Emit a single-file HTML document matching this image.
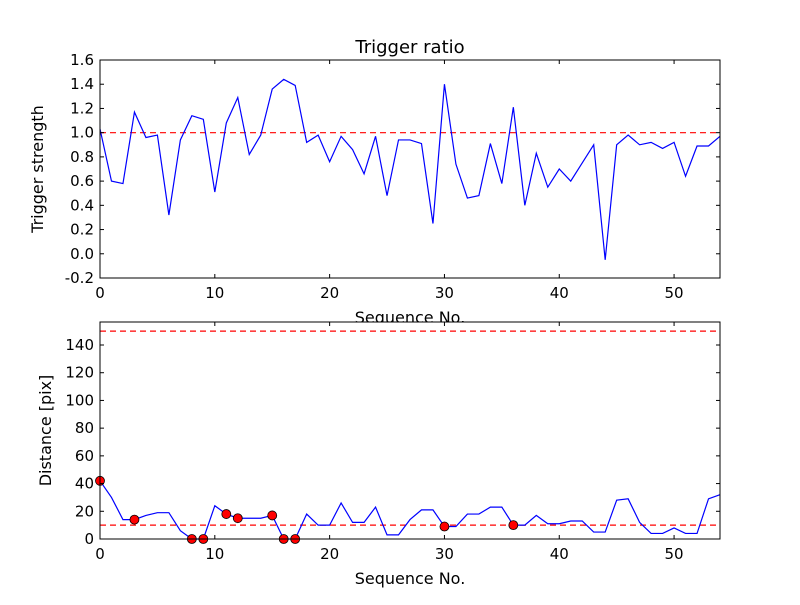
<!DOCTYPE html>
<html><head><meta charset="utf-8"><style>
body{margin:0;background:#fff;}
svg text{font-family:"DejaVu Sans","Liberation Sans",sans-serif;}
</style></head><body>
<svg id="c" width="800" height="600" xmlns="http://www.w3.org/2000/svg">
<rect width="800" height="600" fill="#fff"/>
</svg>
<script>
const seqTop = [1.03,0.60,0.58,1.17,0.96,0.98,0.32,0.94,1.14,1.11,0.51,1.08,1.29,0.82,0.98,1.36,1.44,1.39,0.92,0.98,0.76,0.97,0.86,0.66,0.97,0.48,0.94,0.94,0.91,0.25,1.40,0.74,0.46,0.48,0.91,0.58,1.21,0.40,0.83,0.55,0.70,0.60,0.75,0.90,-0.05,0.90,0.98,0.90,0.92,0.87,0.92,0.64,0.89,0.89,0.97];
const distance = [42,30,14,14,17,19,19,6,0,0,24,18,15,15,15,17,0,0,18,10,10,26,12,12,23,3,3,14,21,21,9,9,18,18,23,23,10,10,17,11,11,13,13,5,5,28,29,12,4,4,8,4,4,29,32];
const markedIdx = [0,3,8,9,11,12,15,16,17,30,36];
const topThreshold = [1.0];
const bottomThresholds = [150,10];
const xTicks = [0,10,20,30,40,50];
const topYTicks = [-0.2,0.0,0.2,0.4,0.6,0.8,1.0,1.2,1.4,1.6];
const botYTicks = [0,20,40,60,80,100,120,140];

const NS='http://www.w3.org/2000/svg';
const svg=document.getElementById('c');
function mk(t,a,p){const e=document.createElementNS(NS,t);for(const k in a)e.setAttribute(k,a[k]);(p||svg).appendChild(e);return e;}
const L=100,R=720;
const xs=v=>L+(v-0)/(54-0)*(R-L);
function drawAxes(name,T,B,ymin,ymax,yt,fmt,data,thr,title,ylx){
  const ys=v=>B-(v-ymin)/(ymax-ymin)*(B-T);
  const g=mk('g',{});
  const bg=mk('rect',{x:L,y:T,width:R-L,height:B-T,fill:'#fff'},g);
  thr.forEach(t=>{const l=mk('line',{x1:L,x2:R,y1:ys(t),y2:ys(t),stroke:'#ff0000','stroke-width':1.2,'stroke-dasharray':'6,4'},g);});
  const pl=mk('polyline',{points:data.map((v,i)=>xs(i)+','+ys(v)).join(' '),fill:'none',stroke:'#0000ff','stroke-width':1.2},g);
  
  if(name==='bottom-axes'){markedIdx.forEach(i=>{const c=mk('circle',{cx:xs(i),cy:ys(data[i]),r:4.5,fill:'#ff0000',stroke:'#000','stroke-width':0.8},g);});}
  const f=mk('rect',{x:L,y:T,width:R-L,height:B-T,fill:'none',stroke:'#000','stroke-width':1},g);
  xTicks.forEach(t=>{const x=xs(t);mk('line',{x1:x,x2:x,y1:B,y2:B-4,stroke:'#000'},g);mk('line',{x1:x,x2:x,y1:T,y2:T+4,stroke:'#000'},g);
    const tx=mk('text',{x:x,y:B+20,'font-size':15,'text-anchor':'middle'},g);tx.textContent=t;});
  yt.forEach(t=>{const y=ys(t);mk('line',{x1:L,x2:L+4,y1:y,y2:y,stroke:'#000'},g);mk('line',{x1:R,x2:R-4,y1:y,y2:y,stroke:'#000'},g);
    const tx=mk('text',{x:L-6,y:y+5,'font-size':15,'text-anchor':'end'},g);tx.textContent=fmt(t);});
  const xl=mk('text',{x:(L+R)/2,y:B+45,'font-size':16,'text-anchor':'middle'},g);xl.textContent='Sequence No.';
  const yl=mk('text',{x:0,y:0,'font-size':16,'text-anchor':'middle',transform:`translate(${ylx},${(T+B)/2}) rotate(-90)`},g);yl.textContent=title;
}
drawAxes('top-axes',60,278,-0.2,1.6,topYTicks,v=>v.toFixed(1),seqTop,topThreshold,'Trigger strength',43);
drawAxes('bottom-axes',322,539,0,156.6,botYTicks,v=>String(v),distance,bottomThresholds,'Distance [pix]',51);
const tt=mk('text',{x:410,y:53,'font-size':18,'text-anchor':'middle'});tt.textContent='Trigger ratio';


</script>
</body></html>
